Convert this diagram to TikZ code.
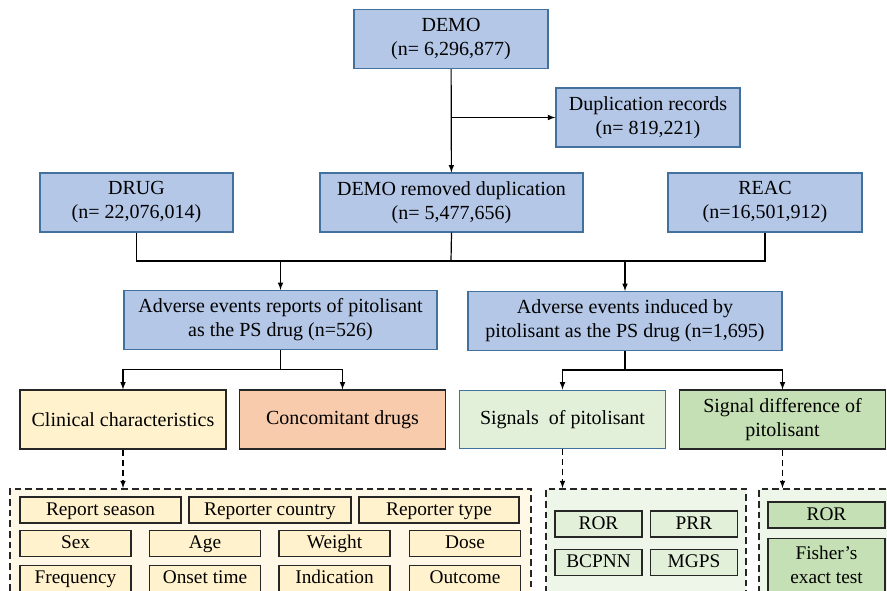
\documentclass[tikz,border=0pt]{standalone}
\usepackage{fontspec}
\setmainfont{Liberation Serif}
\usepackage{xcolor}
\usepackage{tikz}
\usetikzlibrary{positioning,arrows}

\definecolor{boxblue}{HTML}{B4C7E7}
\definecolor{lineblue}{HTML}{41719C}
\definecolor{darkline}{HTML}{262626}
\definecolor{clinfill}{HTML}{FFF2CC}
\definecolor{concfill}{HTML}{F8CBAD}
\definecolor{sigfill}{HTML}{E2F0D9}
\definecolor{difffill}{HTML}{C5E0B4}
\definecolor{clinback}{HTML}{FFF8E6}
\definecolor{sigback}{HTML}{EEF6EA}

\begin{document}
\begin{tikzpicture}[x=0.75pt,y=-0.75pt,>=latex,line width=0.9pt]
        \tikzstyle{every node}=[font=\fontsize{15}{18}\selectfont,align=center,inner sep=0pt]
        \tikzstyle{bluebox}=[draw=lineblue,fill=boxblue,line width=1.1pt,minimum height=44pt]
        \tikzstyle{catbox}=[draw=darkline,line width=1.1pt,minimum width=154.5pt,minimum height=44pt]
        \tikzstyle{group}=[draw=darkline,line width=1.1pt,dash pattern=on 5pt off 3pt]
        \tikzstyle{dasharrow}=[->,dash pattern=on 4.5pt off 3pt]
        \tikzstyle{item}=[draw=darkline,line width=1.1pt,minimum height=19.5pt,text height=10.5pt,text depth=3pt,font=\fontsize{14.5}{17}\selectfont]
        \clip (0,0) rectangle (887,591);
        \useasboundingbox (0,0) rectangle (887,591);
        % source tables
        \node[bluebox,minimum width=145.5pt] (Dm) at (451,39) {DEMO\\(n= 6,296,877)};
        \node[bluebox,minimum width=138pt] (Dup) at (648,117.5) {Duplication records\\(n= 819,221)};
        \node[bluebox,minimum width=145pt] (Dg) at (136.5,202.5) {DRUG\\(n= 22,076,014)};
        \node[bluebox,minimum width=197pt] (Dr) at (451.5,202.5) {DEMO removed duplication\\(n= 5,477,656)};
        \node[bluebox,minimum width=145.5pt] (Rc) at (765,202.5) {REAC\\(n=16,501,912)};
        % pitolisant sets
        \node[bluebox,minimum width=235pt] (Al) at (280.5,320) {Adverse events reports of pitolisant\\as the PS drug (n=526)};
        \node[bluebox,minimum width=235.5pt] (Ar) at (625,321) {Adverse events induced by\\pitolisant as the PS drug (n=1,695)};
        % analyses
        \node[catbox,fill=clinfill] (Cc) at (123,419.5) {Clinical characteristics};
        \node[catbox,fill=concfill] (Cd) at (342.5,419.5) {Concomitant drugs};
        \node[catbox,fill=sigfill,draw=lineblue,line width=0.9pt] (Sp) at (562.5,419.5) {Signals \ of pitolisant};
        \node[catbox,fill=difffill] (Sd) at (782.5,419.5) {Signal difference of\\pitolisant};
        % dashed groups
        \node[group,fill=clinback,minimum width=390.75pt,minimum height=91pt] (Gc) at (270.5,549.5) {};
        \node[group,fill=sigback,minimum width=150pt,minimum height=91pt] (Gs) at (646,549.5) {};
        \node[group,fill=sigback,minimum width=102pt,minimum height=91pt] (Gd) at (827,549.5) {};
        \foreach \nm/\cx/\cy/\bw/\tx in {rs/100.5/510/161/Report season, rc/270/510/162/Reporter country,
                rt/439/510/160/Reporter type, sx/75.5/543.5/111/Sex, ag/205/543.5/111/Age,
                wt/334.5/543.5/111/Weight, ds/465/543.5/111/Dose, fq/75.5/578.5/111/Frequency,
                ot/205/578.5/111/Onset time, id/334.5/578.5/111/Indication, oc/465/578.5/111/Outcome}
            \node[item,fill=clinfill,minimum width=0.75*\bw pt] (c\nm) at (\cx,\cy) {\tx};
        \node[item,fill=sigfill,minimum width=65pt] (sRor) at (598.5,524) {ROR};
        \node[item,fill=sigfill,minimum width=65pt] (sPrr) at (694,524) {PRR};
        \node[item,fill=sigfill,minimum width=65pt] (sBc) at (598.5,562.5) {BCPNN};
        \node[item,fill=sigfill,minimum width=65pt] (sMg) at (694,562.5) {MGPS};
        \node[item,fill=difffill,minimum width=88pt] (dRor) at (826.5,515) {ROR};
        \node[item,fill=difffill,minimum width=88pt,minimum height=40pt,text height=,text depth=,font=\fontsize{14.5}{17.5}\selectfont] (dFt) at (826.5,565) {Fisher's\\exact test};
        % connectors
        \draw[->] (Dm) -- (Dr);
        \draw[->] (Dm.south |- Dup.west) -- (Dup);
        \coordinate (jn) at (451,261);
        \draw (Dg.south) |- (jn) -| (Rc.south);
        \draw (Dr.south) -- (jn);
        \draw[->] (jn -| Al.north) -- (Al.north);
        \draw[->] (jn -| Ar.north) -- (Ar.north);
        \draw[->] (Al.south) -- ++(0,19.5) -| (Cc.north);
        \draw[->] (Al.south) -- ++(0,19.5) -| (Cd.north);
        \draw[->] (Ar.south) -- ++(0,19) -| (Sp.north);
        \draw[->] (Ar.south) -- ++(0,19) -| (Sd.north);
        \draw[dasharrow] (Cc.south) -- (Cc.south |- Gc.north);
        \draw[dasharrow] (Sp.south) -- (Sp.south |- Gs.north);
        \draw[dasharrow] (Sd.south) -- (Sd.south |- Gd.north);
    \end{tikzpicture}
\end{document}
